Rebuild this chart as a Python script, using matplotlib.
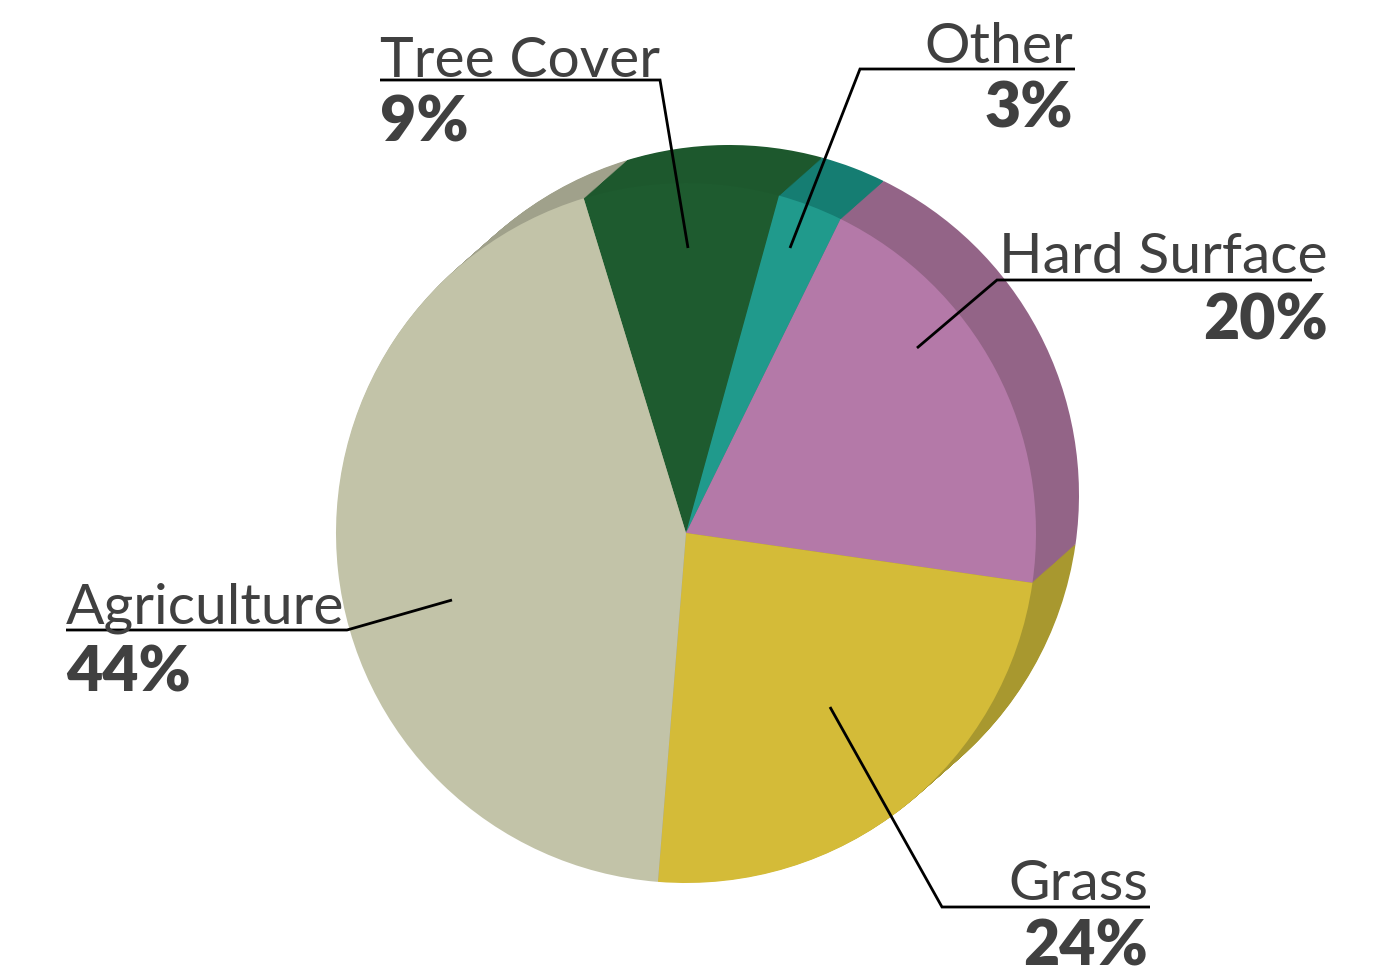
import matplotlib
matplotlib.use("Agg")
import matplotlib.pyplot as plt
import numpy as np

# ---- data ----
categories = ["Tree Cover", "Other", "Hard Surface", "Grass", "Agriculture"]
values = [9, 3, 20, 24, 44]
pct_labels = ["9%", "3%", "20%", "24%", "44%"]
face_colors = ["#1e5b2f", "#209a8c", "#b479a8", "#d4bb38", "#c2c3a8"]
side_colors = ["#1d582d", "#157d72", "#936487", "#a8982f", "#a0a18b"]

W, H = 1391, 980
fig = plt.figure(figsize=(W / 100, H / 100), dpi=100)
ax = fig.add_axes([0, 0, 1, 1])

def Y(ypx):
    return H - ypx

cx, cy, R = 686, Y(533), 350
dx, dy = 43, 38
start = 107

# extrusion (side faces)
for t in np.linspace(1, 0.02, 40):
    ax.pie(values, colors=side_colors, center=(cx + t * dx, cy + t * dy), radius=R,
           startangle=start, counterclock=False, frame=True,
           wedgeprops=dict(linewidth=0))
# front face
ax.pie(values, colors=face_colors, center=(cx, cy), radius=R,
       startangle=start, counterclock=False, frame=True,
       wedgeprops=dict(linewidth=0))

ax.set_xlim(0, W)
ax.set_ylim(0, H)
ax.set_aspect("auto")
ax.axis("off")

txt = "#404040"
name_font = dict(family=["Lato", "DejaVu Sans"], fontweight="normal", fontsize=41, color=txt)
pct_font = dict(family=["Lato", "DejaVu Sans"], fontweight="heavy", fontsize=45, color=txt)

# (label x, name baseline, pct baseline, ha, underline from x, underline to x, underline y, leader end)
label_layout = {
    "Tree Cover": (380, 77, 142, "left", 380, 660, 80, (688, 248)),
    "Other": (1073, 63, 128, "right", 1075, 860, 69, (790, 248)),
    "Hard Surface": (1328, 273, 340, "right", 1312, 997, 280, (917, 348)),
    "Grass": (1148, 900, 965, "right", 1150, 942, 907, (830, 707)),
    "Agriculture": (66, 624, 691, "left", 66, 347, 630, (452, 600)),
}

for cat, pct in zip(categories, pct_labels):
    x, yb, yp, ha, u0, u1, uy, (ex, ey) = label_layout[cat]
    ax.text(x, Y(yb), cat, ha=ha, va="baseline", **name_font)
    ax.text(x, Y(yp), pct, ha=ha, va="baseline", **pct_font)
    ax.plot([u0, u1, ex], [Y(uy), Y(uy), Y(ey)], color="black", lw=2,
            solid_joinstyle="miter", solid_capstyle="butt")

fig.savefig("out.png", dpi=100, facecolor="white")
